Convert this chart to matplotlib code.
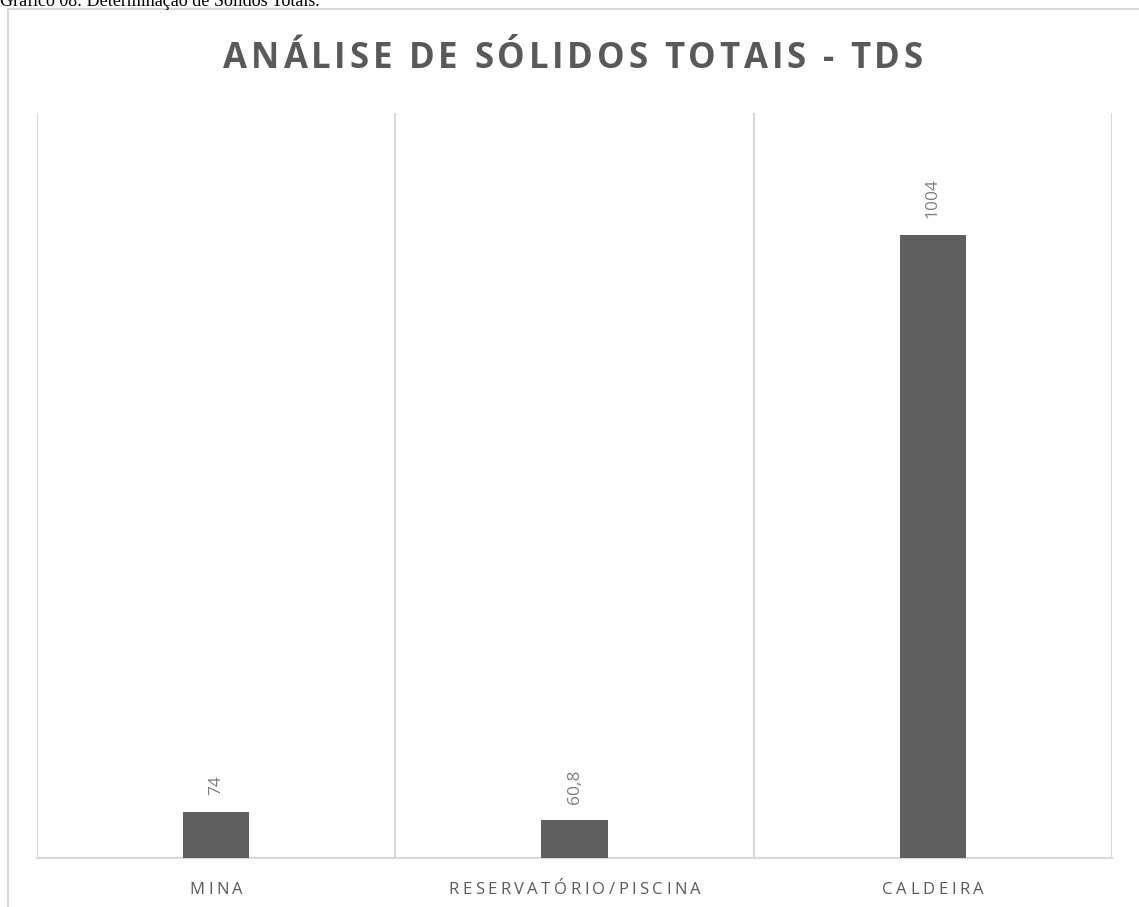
import numpy as np
import matplotlib
matplotlib.use('Agg')
import matplotlib.pyplot as plt
from matplotlib.lines import Line2D

categories = ['MINA', 'RESERVATÓRIO/PISCINA', 'CALDEIRA']
values = [74, 60.8, 1004]
value_labels = ['74', '60,8', '1004']
title = 'ANÁLISE DE SÓLIDOS TOTAIS - TDS'
caption = 'Gráfico 08: Determinação de Sólidos Totais.'

W, H = 1139, 907
grid_col = '#d9d9d9'
text_col = '#595959'
bar_col = '#5f5f5f'
lab_col = '#7f7f7f'
font = 'Open Sans'


def char_adv(renderer, c, size, weight):
    # advance width of one character, in pixels
    def w(s):
        t = fig.text(0, 0, s, fontsize=size, fontweight=weight, family=font)
        bb = t.get_window_extent(renderer)
        t.remove()
        return bb.width
    return w('I' + c + 'I') - w('II')


def spaced_text(renderer, s, xc, y, size, weight, color, spacing=None, total=None):
    # draw text with letter spacing, centred at xc (pixels), baseline y (pixels)
    advs = [char_adv(renderer, c, size, weight) for c in s]
    if spacing is None:
        spacing = (total - sum(advs)) / (len(s) - 1)
    width = sum(advs) + spacing * (len(s) - 1)
    x = xc - width / 2
    for c, a in zip(s, advs):
        fig.text(x / W, y / H, c, fontsize=size, fontweight=weight, family=font,
                 color=color, ha='left', va='baseline')
        x += a + spacing


fig = plt.figure(figsize=(W / 100, H / 100), dpi=100)
ax = fig.add_axes([37 / W, 1 - 858 / H, (1112 - 37) / W, (858 - 113) / H])

x = np.arange(len(categories))
ax.bar(x, values, width=0.185, color=bar_col, zorder=3)
for i, v in enumerate(values):
    ax.annotate(value_labels[i], (x[i], v), xytext=(0, 12), textcoords='offset points',
                rotation=90, ha='center', va='bottom', fontsize=12.5, color=lab_col,
                family=font)

ax.set_xlim(-0.5, len(categories) - 0.5)
ax.set_ylim(0, 1200)
ax.set_xticks(np.arange(-0.5, len(categories)), minor=True)
ax.grid(True, which='minor', axis='x', color=grid_col, lw=1.5)
ax.tick_params(which='both', length=0)
ax.set_xticks([])
ax.set_yticks([])
for side in ['top', 'left', 'right']:
    ax.spines[side].set_visible(False)
ax.spines['bottom'].set_color(grid_col)
ax.spines['bottom'].set_linewidth(1.5)

renderer = fig.canvas.get_renderer()

# category labels with letter spacing
for i, c in enumerate(categories):
    px = ax.transData.transform((x[i], 0))[0]
    spaced_text(renderer, c, px, H - 894, 12, 'normal', text_col, spacing=3.5)

# title
spaced_text(renderer, title, 573, H - 68, 25, 'bold', text_col, total=700)

# outer chart frame (cropped at right and bottom)
fig.add_artist(Line2D([8 / W, 8 / W], [0, 1 - 8.5 / H], color=grid_col, lw=1.5,
                      transform=fig.transFigure))
fig.add_artist(Line2D([8 / W, 1], [1 - 8.5 / H, 1 - 8.5 / H], color=grid_col, lw=1.5,
                      transform=fig.transFigure))

# caption, cut at top edge as in the source
fig.text(0, 1 - 6 / H, caption, fontsize=13, family='Liberation Serif', color='black',
         ha='left', va='baseline')

fig.savefig('out.png', dpi=100)
